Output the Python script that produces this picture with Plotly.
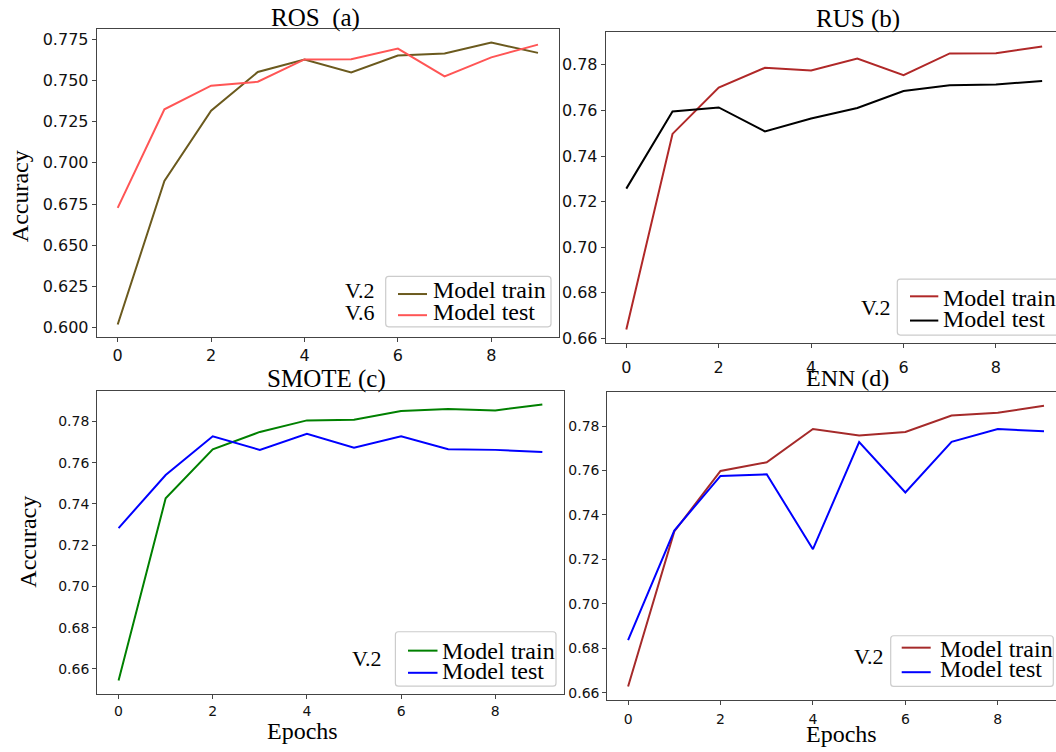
import plotly.graph_objects as go

# Accuracy per epoch for four resampling strategies
epochs = list(range(10))

ros_train = [0.602, 0.689, 0.7315, 0.755, 0.7626, 0.7547, 0.765, 0.7662, 0.7728, 0.7666]
ros_test = [0.6727, 0.7324, 0.7467, 0.7491, 0.7626, 0.7627, 0.7692, 0.7523, 0.7639, 0.7716]

rus_train = [0.6639, 0.7497, 0.770, 0.7787, 0.7775, 0.7828, 0.7755, 0.785, 0.7851, 0.788]
rus_test = [0.7257, 0.7595, 0.7613, 0.7508, 0.7565, 0.7611, 0.7685, 0.771, 0.7714, 0.7729]

smote_train = [0.6544, 0.7427, 0.7665, 0.7749, 0.7805, 0.7808, 0.785, 0.786, 0.7853, 0.7882]
smote_test = [0.7283, 0.754, 0.7728, 0.7662, 0.774, 0.7673, 0.7728, 0.7665, 0.7662, 0.7652]

enn_train = [0.6628, 0.7326, 0.7598, 0.7637, 0.7787, 0.7758, 0.7774, 0.7848, 0.786, 0.7892]
enn_test = [0.6837, 0.733, 0.7576, 0.7583, 0.7246, 0.7728, 0.7501, 0.7729, 0.7787, 0.7777]

titles = ["ROS  (a)", "RUS (b)", "SMOTE (c)", "ENN (d)"]
series_names = ["Model train", "Model test"]
ros_ticks = [0.600, 0.625, 0.650, 0.675, 0.700, 0.725, 0.750, 0.775]
other_ticks = [0.66, 0.68, 0.70, 0.72, 0.74, 0.76, 0.78]

W, H = 1056, 752
SERIF = "Liberation Serif, Times New Roman, serif"
SANS = "DejaVu Sans, sans-serif"
FRAME = "#444444"


def px(x):
    return x / W


def py(y):
    return 1 - y / H


panels = [
    dict(data=(ros_train, ros_test), colors=("#6b5a1e", "#ff5555"),
         box=(96.7, 559, 29.3, 339.3), xr=[-0.45, 9.45], yr=[0.5944, 0.7810],
         ticks=ros_ticks, fmt=".3f", tfs=16, mirror_y=True, xstand=0,
         title=(315.5, 17.7, 25), ylab=(20, 197.5), xlab=None,
         leg=dict(box=(385.7, 551, 278.3, 329), sw=(398, 427), swy=(296, 317.3),
                  tx=431, ty=(291.9, 313.6), v=(["V.2", "V.6"], 376.8, (292.6, 314.9)))),
    dict(data=(rus_train, rus_test), colors=("#b02828", "#000000"),
         box=(605.7, 1056, 32.7, 345), xr=[-0.446, 9.30], yr=[0.6581, 0.7942],
         ticks=other_ticks, fmt=".2f", tfs=16, mirror_y=False, xstand=6,
         title=(857.7, 19.2, 25), ylab=None, xlab=None,
         leg=dict(box=(897.3, 1060, 281, 337.3), sw=(910, 938.3), swy=(298.3, 322.7),
                  tx=941, ty=(300.2, 320.9), v=(["V.2"], 893, (309.3,)))),
    dict(data=(smote_train, smote_test), colors=("#008000", "#0000ff"),
         box=(97.1, 564, 393.3, 698.3), xr=[-0.456, 9.46], yr=[0.648, 0.7949],
         ticks=other_ticks, fmt=".2f", tfs=14, mirror_y=True, xstand=1,
         title=(326, 381.3, 25), ylab=(28.5, 545.8), xlab=(302, 735.5),
         leg=dict(box=(395.4, 556, 636, 690.7), sw=(408, 437.5), swy=(655, 677.3),
                  tx=440, ty=(655.2, 675.2), v=(["V.2"], 384, (662.6,)))),
    dict(data=(enn_train, enn_test), colors=("#a52a2a", "#0000ff"),
         box=(607.3, 1056, 394.3, 704.3), xr=[-0.45, 9.26], yr=[0.6569, 0.7955],
         ticks=other_ticks, fmt=".2f", tfs=14, mirror_y=False, xstand=3,
         title=(847.5, 381, 24), ylab=None, xlab=(841.7, 738.5),
         leg=dict(box=(890.7, 1053.3, 640, 691), sw=(901.7, 930.7), swy=(652, 676.7),
                  tx=937.7, ty=(653, 673.6), v=(["V.2"], 885.7, (660.9,)))),
]

fig = go.Figure()
annotations = []
shapes = []
layout_axes = {}

for i, p in enumerate(panels, start=1):
    xa = "x" if i == 1 else f"x{i}"
    ya = "y" if i == 1 else f"y{i}"
    for vals, name, col in zip(p["data"], series_names, p["colors"]):
        fig.add_trace(go.Scatter(x=epochs, y=vals, mode="lines", name=name,
                                 line=dict(color=col, width=2),
                                 xaxis=xa, yaxis=ya, showlegend=False))

    x0, x1, y0, y1 = p["box"]
    layout_axes["xaxis" if i == 1 else f"xaxis{i}"] = dict(
        domain=[px(x0), min(1.0, px(x1))], range=p["xr"], anchor=ya,
        tickmode="array", tickvals=[0, 2, 4, 6, 8], ticks="outside", ticklen=4,
        tickcolor=FRAME, showline=True, linecolor=FRAME, linewidth=1,
        mirror=True, showgrid=False, zeroline=False, ticklabelstandoff=p["xstand"],
        tickfont=dict(family=SANS, size=p["tfs"], color="#111111"),
    )
    layout_axes["yaxis" if i == 1 else f"yaxis{i}"] = dict(
        domain=[py(y1), py(y0)], range=p["yr"], anchor=xa,
        tickmode="array", tickvals=p["ticks"], tickformat=p["fmt"],
        ticks="outside", ticklen=4, tickcolor=FRAME, showline=True,
        linecolor=FRAME, linewidth=1, mirror=p["mirror_y"], showgrid=False,
        zeroline=False, tickfont=dict(family=SANS, size=p["tfs"], color="#111111"),
    )

    tx, ty, ts = p["title"]
    annotations.append(dict(text=titles[i - 1], x=px(tx), y=py(ty), xref="paper",
                            yref="paper", showarrow=False, xanchor="center",
                            yanchor="middle", font=dict(family=SERIF, size=ts, color="#000")))
    if p["ylab"]:
        lx, ly = p["ylab"]
        annotations.append(dict(text="Accuracy", x=px(lx), y=py(ly), xref="paper",
                                yref="paper", showarrow=False, textangle=-90,
                                xanchor="center", yanchor="middle",
                                font=dict(family=SERIF, size=24, color="#000")))
    if p["xlab"]:
        lx, ly = p["xlab"]
        annotations.append(dict(text="Epochs", x=px(lx), y=py(ly), xref="paper",
                                yref="paper", showarrow=False, xanchor="center",
                                yanchor="middle",
                                font=dict(family=SERIF, size=24, color="#000")))

    # legend frame, swatches and labels
    lg = p["leg"]
    bx0, bx1, by0, by1 = lg["box"]
    r = 3
    path = (f"M {px(bx0 + r)},{py(by0)} L {px(bx1 - r)},{py(by0)} "
            f"Q {px(bx1)},{py(by0)} {px(bx1)},{py(by0 + r)} "
            f"L {px(bx1)},{py(by1 - r)} Q {px(bx1)},{py(by1)} {px(bx1 - r)},{py(by1)} "
            f"L {px(bx0 + r)},{py(by1)} Q {px(bx0)},{py(by1)} {px(bx0)},{py(by1 - r)} "
            f"L {px(bx0)},{py(by0 + r)} Q {px(bx0)},{py(by0)} {px(bx0 + r)},{py(by0)} Z")
    shapes.append(dict(type="path", path=path, xref="paper", yref="paper",
                       line=dict(color="#cccccc", width=1.2),
                       fillcolor="rgba(255,255,255,0.85)", layer="above"))
    sx0, sx1 = lg["sw"]
    for sy, col, name, tyy in zip(lg["swy"], p["colors"], series_names, lg["ty"]):
        shapes.append(dict(type="line", xref="paper", yref="paper",
                           x0=px(sx0), x1=px(sx1), y0=py(sy), y1=py(sy),
                           line=dict(color=col, width=2), layer="above"))
        annotations.append(dict(text=name, x=px(lg["tx"]), y=py(tyy), xref="paper",
                                yref="paper", showarrow=False, xanchor="left",
                                yanchor="middle",
                                font=dict(family=SERIF, size=24, color="#000")))
    vtexts, vx, vys = lg["v"]
    for vt, vy in zip(vtexts, vys):
        annotations.append(dict(text=vt, x=px(vx), y=py(vy), xref="paper",
                                yref="paper", showarrow=False, xanchor="right",
                                yanchor="middle",
                                font=dict(family=SERIF, size=22, color="#000")))

fig.update_layout(
    width=W, height=H, margin=dict(l=0, r=0, t=0, b=0),
    paper_bgcolor="white", plot_bgcolor="white",
    annotations=annotations, shapes=shapes, showlegend=False,
    **layout_axes,
)

fig.write_html("out.html")
